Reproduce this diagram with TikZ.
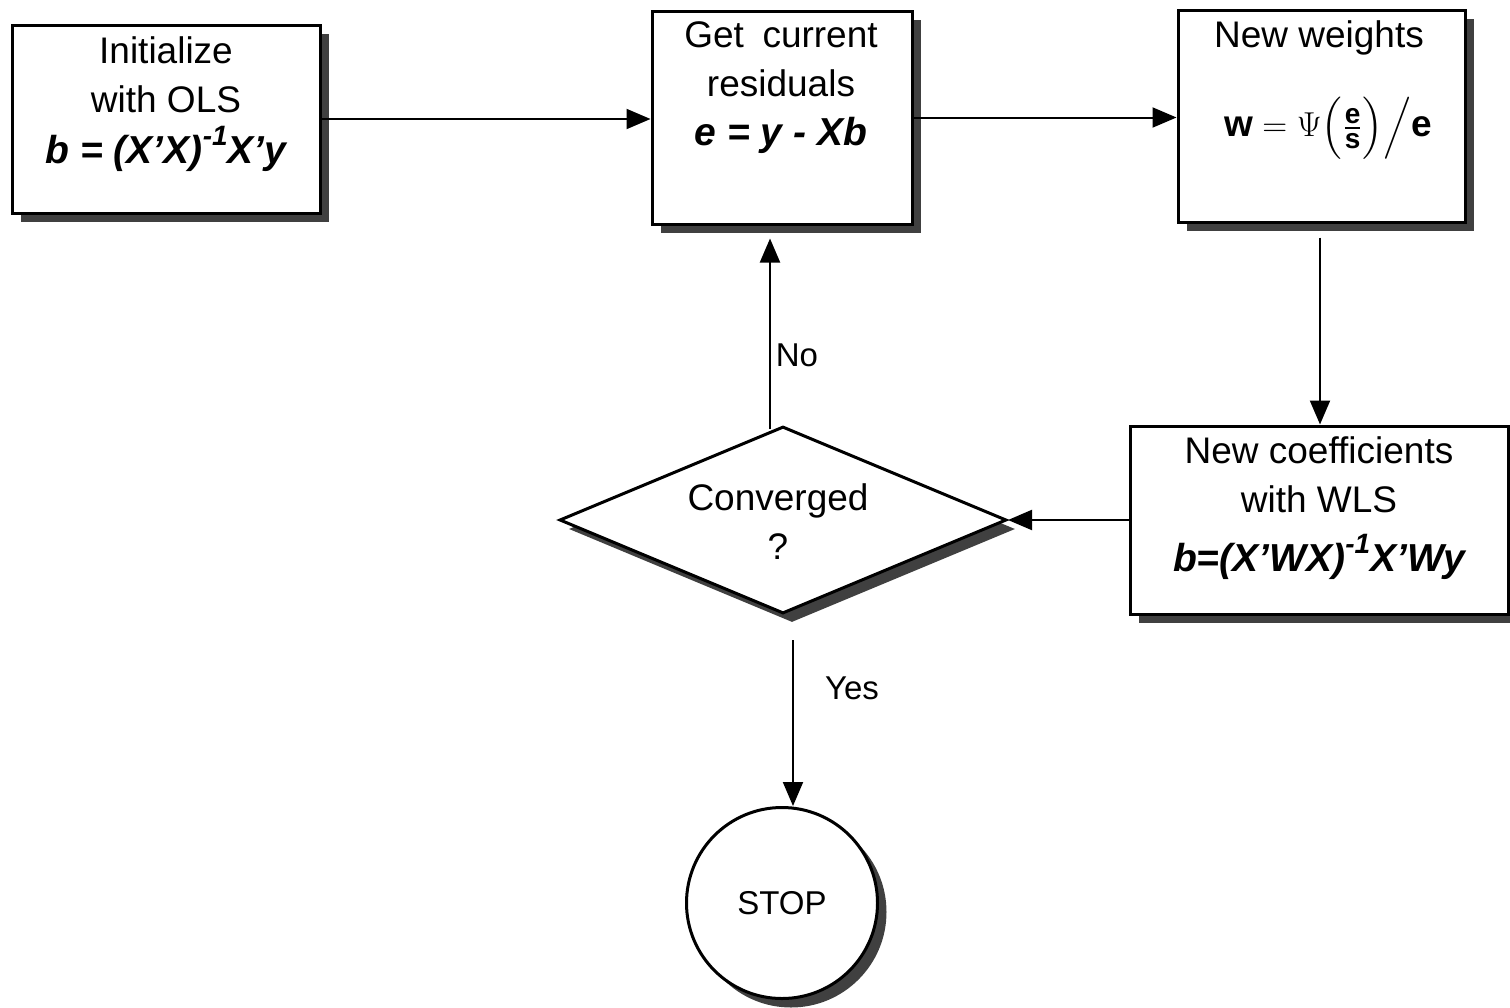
\documentclass[tikz,border=0pt]{standalone}
\usepackage{amsmath}
\usepackage{fontspec}
\setmainfont{Liberation Sans}
\usetikzlibrary{shapes.geometric,shadows,arrows.meta,calc}
\newcommand{\supm}[1]{\raisebox{0.45em}{\fontsize{14}{14}\selectfont #1}}
\newcommand{\bsf}[1]{\text{\bfseries #1}}
\newcommand{\fsf}[1]{\mbox{\fontsize{14}{14}\selectfont\bfseries #1}}
\newcommand{\fml}{\fontsize{19.5}{24.5}\selectfont\bfseries\itshape}
\begin{document}
\begin{tikzpicture}[x={(0.5pt,0)},y={(0,-0.5pt)},
  shad/.style={drop shadow={shadow xshift=4.5pt,shadow yshift=-4.5pt,fill=black!75,opacity=1}},
  box/.style={draw,line width=1.5pt,fill=white,rectangle,inner sep=0pt,shad},
  txt/.style={align=center,inner sep=0pt,font=\fontsize{18.5}{24.5}\selectfont},
  arr/.style={line width=1pt,-{Triangle[length=12pt,width=10pt]}},
  lbl/.style={inner sep=0pt,font=\fontsize{16.5}{18}\selectfont}]
\useasboundingbox (0,0) rectangle (1510,1007);
% boxes
\node[box,minimum width=154pt,minimum height=94pt] (b1) at (166,119) {};
\node[box,minimum width=130pt,minimum height=106.5pt] (b2) at (782,117.5) {};
\node[box,minimum width=143.5pt,minimum height=106pt] (b3) at (1321.5,116) {};
\node[box,minimum width=189pt,minimum height=94pt] (b4) at (1319,520) {};
\node[draw,line width=1.5pt,fill=white,shape=diamond,aspect=2.4,inner sep=0pt,
      minimum width=223.5pt,minimum height=93.5pt,shad] (d) at (783,520) {};
\node[draw,line width=1.5pt,fill=white,circle,inner sep=0pt,minimum size=95.5pt,shad,
      font=\fontsize{16.5}{18}\selectfont] (s) at (782,903) {STOP};
% texts
\node[txt,anchor=north] (t1) at (166,36)
  {Initialize\\with OLS\\[1pt]{\fml b = (X’X)\supm{-1}X’y}};
\node[txt,anchor=north] (t2) at (781,21)
  {Get\enspace current\\residuals\\{\fml e = y - Xb}};
\node[txt,anchor=north] (t3) at (1319,20) {New weights};
\node[txt] (t3f) at (1328,128)
  {$\bsf{w} = \Psi\Bigl(\frac{\fsf{e}}{\fsf{s}}\Bigr)\Big/\bsf{e}$};
\node[txt,anchor=north] (t4) at (1319,436)
  {New coefficients\\with WLS\\[5pt]{\fml b=(X’WX)\supm{-1}X’Wy}};
\node[txt,anchor=north] (td) at (778,483) {Converged\\?};
% helper coordinates
\coordinate (c34) at ($(b3.south)+(-1.5,14)$);
\coordinate (cno) at ($(d.north)+(-13,4)$);
\coordinate (cyes) at ($(d.south)+(10,25)$);
% connectors
\draw[arr] (b1.east) -- (b2.west |- b1.east);
\draw[arr] (b2.east) -- (b3.west |- b2.east);
\draw[arr] (c34) -- (c34 |- b4.north);
\draw[arr] (b4.west) -- (d.east);
\draw[arr] (cno) -- ($(b2.south)+(-12,13)$);
\draw[arr] (cyes) -- (cyes |- s.north);
\node[lbl] (no) at (797,355) {No};
\node[lbl] (yes) at (852,688) {Yes};
\end{tikzpicture}
\end{document}
